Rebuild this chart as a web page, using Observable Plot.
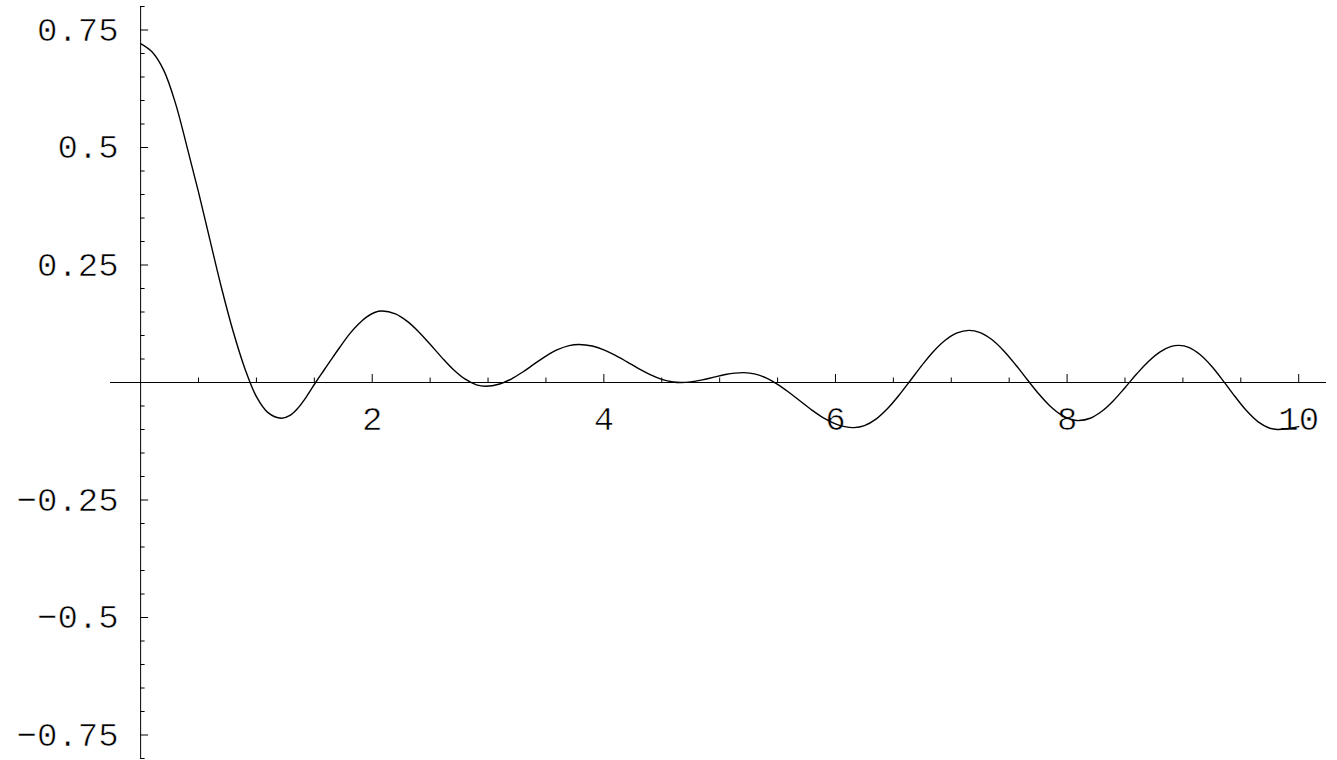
<!DOCTYPE html>
<html>
<head>
<meta charset="utf-8">
<script src="https://cdn.jsdelivr.net/npm/d3@7"></script>
<script src="https://cdn.jsdelivr.net/npm/@observablehq/plot@0.6"></script>
<style>
  html, body { margin: 0; padding: 0; background: #fff; }
  #chart svg { display: block; }
</style>
</head>
<body>
<div id="chart"></div>
<script>
// Curve samples
const xs = [0, 0.1, 0.2, 0.3, 0.4, 0.5, 0.6, 0.7, 0.8, 0.9, 1.0, 1.1, 1.215, 1.29, 1.353, 1.43, 1.511,
  1.58, 1.641, 1.72, 1.81, 1.88, 1.95, 2.02, 2.087,
  2.2, 2.3, 2.4, 2.5, 2.6, 2.7, 2.8, 2.9, 2.98,
  3.1, 3.2, 3.3, 3.4, 3.5, 3.6, 3.7, 3.785,
  3.9, 4.0, 4.1, 4.2, 4.3, 4.4, 4.5, 4.6, 4.663,
  4.75, 4.85, 4.95, 5.05, 5.13, 5.21,
  5.3, 5.4, 5.5, 5.6, 5.7, 5.8, 5.9, 6.0, 6.08, 6.16,
  6.25, 6.35, 6.45, 6.55, 6.65, 6.75, 6.85, 6.95, 7.05, 7.153,
  7.25, 7.35, 7.45, 7.55, 7.65, 7.75, 7.85, 7.95, 8.03, 8.103,
  8.2, 8.3, 8.4, 8.5, 8.6, 8.7, 8.8, 8.9, 8.966,
  9.05, 9.15, 9.25, 9.35, 9.45, 9.55, 9.65, 9.75, 9.816, 9.9, 10];
const ys = [0.721, 0.703, 0.664, 0.595, 0.502, 0.405, 0.302, 0.2, 0.108, 0.03, -0.03, -0.064, -0.076, -0.07, -0.056, -0.031, 0,
  0.025, 0.047, 0.075, 0.105, 0.124, 0.139, 0.149, 0.152,
  0.1458, 0.1305, 0.1082, 0.0814, 0.0535, 0.0277, 0.0076, -0.0049, -0.008,
  -0.0032, 0.0074, 0.0224, 0.0395, 0.0562, 0.0699, 0.0786, 0.081,
  0.0776, 0.0696, 0.0579, 0.044, 0.0296, 0.0166, 0.0067, 0.0011, 0,
  0.0013, 0.0055, 0.0113, 0.0169, 0.0199, 0.021,
  0.0184, 0.0098, -0.0039, -0.0213, -0.0404, -0.0592, -0.0757, -0.088, -0.094, -0.096,
  -0.0918, -0.0779, -0.0554, -0.0267, 0.0054, 0.0376, 0.067, 0.0904, 0.1055, 0.111,
  0.1061, 0.0914, 0.0683, 0.0395, 0.008, -0.0227, -0.0494, -0.069, -0.0782, -0.081,
  -0.0761, -0.0613, -0.0387, -0.011, 0.0179, 0.0443, 0.0648, 0.0767, 0.079,
  0.0747, 0.059, 0.0341, 0.003, -0.0299, -0.0602, -0.0837, -0.0973, -0.1, -0.0985, -0.094];

// Tick positions and labels
const xMajor = [2, 4, 6, 8, 10];
const xMajorLabels = ["2", "4", "6", "8", "10"];
const xMinor = [0.5, 1, 1.5, 2.5, 3, 3.5, 4.5, 5, 5.5, 6.5, 7, 7.5, 8.5, 9, 9.5];
const yMajor = [-0.75, -0.5, -0.25, 0.25, 0.5, 0.75];
const yMajorLabels = ["−0.75", "−0.5", "−0.25", "0.25", "0.5", "0.75"];
const yMinor = [-0.8, -0.7, -0.65, -0.6, -0.55, -0.45, -0.4, -0.35, -0.3, -0.2, -0.15, -0.1, -0.05,
  0.05, 0.1, 0.15, 0.2, 0.3, 0.35, 0.4, 0.45, 0.55, 0.6, 0.65, 0.7, 0.8];

const curve = xs.map((x, i) => ({x, y: ys[i]}));

const W = 1337, H = 760;
const mL = 110, mR = 11, mT = 6, mB = 2;
const xDom = [-0.26, 10.24], yDom = [-0.8, 0.8];
const pxPerX = (W - mL - mR) / (xDom[1] - xDom[0]);
const pxPerY = (H - mT - mB) / (yDom[1] - yDom[0]);
const majLen = 8, minLen = 4.5;

const labelStyle = {fontSize: 34, fill: "#000", stroke: "#fff", strokeWidth: 0.6, paintOrder: "fill", fontWeight: "normal"};

const chart = Plot.plot({
  width: W, height: H,
  marginLeft: mL, marginRight: mR, marginTop: mT, marginBottom: mB,
  x: {domain: xDom, axis: null},
  y: {domain: yDom, axis: null},
  style: {background: "#fff", fontFamily: "'Liberation Mono', 'DejaVu Sans Mono', monospace"},
  marks: [
    Plot.ruleY([0], {stroke: "#000", strokeWidth: 1}),
    Plot.ruleX([0], {stroke: "#000", strokeWidth: 1}),
    Plot.ruleX(xMajor, {x: d => d, y1: 0, y2: majLen / pxPerY, stroke: "#000", strokeWidth: 1}),
    Plot.ruleX(xMinor, {x: d => d, y1: 0, y2: minLen / pxPerY, stroke: "#000", strokeWidth: 1}),
    Plot.ruleY(yMajor, {y: d => d, x1: 0, x2: majLen / pxPerX, stroke: "#000", strokeWidth: 1}),
    Plot.ruleY(yMinor, {y: d => d, x1: 0, x2: minLen / pxPerX, stroke: "#000", strokeWidth: 1}),
    Plot.text(xMajor, {x: d => d, y: 0, text: (d, i) => xMajorLabels[i], dy: 37, textAnchor: "middle", lineAnchor: "middle", ...labelStyle}),
    Plot.text(yMajor, {x: 0, y: d => d, text: (d, i) => yMajorLabels[i], dx: -22, textAnchor: "end", lineAnchor: "middle", ...labelStyle}),
    Plot.line(curve, {x: "x", y: "y", curve: "catmull-rom", stroke: "#000", strokeWidth: 1.4})
  ]
});
document.getElementById("chart").appendChild(chart);
</script>
</body>
</html>
